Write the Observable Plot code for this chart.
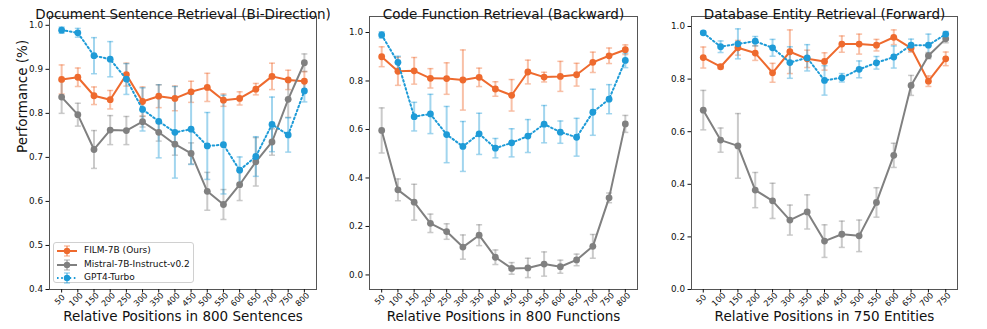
<!DOCTYPE html>
<html>
<head>
<meta charset="utf-8">
<script src="https://cdn.jsdelivr.net/npm/d3@7"></script>
<script src="https://cdn.jsdelivr.net/npm/@observablehq/plot@0.6"></script>
<style>
  html, body { margin: 0; padding: 0; background: #fff; }
  #root { position: relative; width: 987px; height: 329px; font-family: "DejaVu Sans", sans-serif; }
  .panel { position: absolute; top: 0; }
  .legend { position: absolute; left: 53px; top: 242px; width: 139px; height: 39px;
            border: 1px solid #d0d0d0; border-radius: 3px; background: rgba(255,255,255,0.85); }
  .legend .row { position: absolute; left: 0; height: 12px; font-size: 9px; color: #111; white-space: nowrap; }
  .legend .row svg { position: absolute; left: 3px; top: -5px; }
  .legend .row span { position: absolute; left: 30px; top: -6px; line-height: 12px; }
</style>
</head>
<body>
<div id="root"></div>
<script>
// ---------- data ----------
const positions800 = [50, 100, 150, 200, 250, 300, 350, 400, 450, 500, 550, 600, 650, 700, 750, 800];
const positions750 = [50, 100, 150, 200, 250, 300, 350, 400, 450, 500, 550, 600, 650, 700, 750];

const seriesNames = ["FILM-7B (Ours)", "Mistral-7B-Instruct-v0.2", "GPT4-Turbo"];
const titles = ["Document Sentence Retrieval (Bi-Direction)", "Code Function Retrieval (Backward)", "Database Entity Retrieval (Forward)"];
const xLabels = ["Relative Positions in 800 Sentences", "Relative Positions in 800 Functions", "Relative Positions in 750 Entities"];
const yLabel = "Performance (%)";

// Panel 1: Document Sentence Retrieval
const docFilm = [0.877, 0.882, 0.840, 0.831, 0.888, 0.827, 0.839, 0.834, 0.849, 0.859, 0.830, 0.834, 0.855, 0.884, 0.876, 0.873];
const docFilmErr = [0.033, 0.021, 0.020, 0.021, 0.026, 0.033, 0.026, 0.028, 0.024, 0.032, 0.014, 0.015, 0.013, 0.030, 0.022, 0.022];
const docMistral = [0.837, 0.797, 0.718, 0.762, 0.761, 0.781, 0.757, 0.730, 0.709, 0.623, 0.593, 0.638, 0.690, 0.735, 0.832, 0.915];
const docMistralErr = [0.037, 0.026, 0.043, 0.033, 0.032, 0.012, 0.020, 0.025, 0.024, 0.043, 0.034, 0.036, 0.055, 0.030, 0.041, 0.020];
const docGpt = [0.989, 0.983, 0.931, 0.923, 0.878, 0.809, 0.782, 0.757, 0.764, 0.726, 0.729, 0.671, 0.702, 0.775, 0.751, 0.851];
const docGptErr = [0.007, 0.010, 0.041, 0.040, 0.035, 0.049, 0.083, 0.104, 0.080, 0.076, 0.112, 0.030, 0.045, 0.062, 0.039, 0.025];

// Panel 2: Code Function Retrieval
const codeFilm = [0.900, 0.840, 0.842, 0.811, 0.810, 0.804, 0.815, 0.767, 0.741, 0.837, 0.816, 0.819, 0.826, 0.877, 0.904, 0.929];
const codeFilmErr = [0.041, 0.058, 0.055, 0.040, 0.065, 0.124, 0.038, 0.030, 0.065, 0.049, 0.020, 0.062, 0.047, 0.042, 0.032, 0.020];
const codeMistral = [0.596, 0.351, 0.300, 0.213, 0.179, 0.115, 0.164, 0.073, 0.027, 0.029, 0.045, 0.034, 0.062, 0.118, 0.318, 0.623];
const codeMistralErr = [0.093, 0.045, 0.074, 0.038, 0.032, 0.050, 0.043, 0.030, 0.024, 0.040, 0.050, 0.027, 0.024, 0.049, 0.020, 0.035];
const codeGpt = [0.990, 0.877, 0.653, 0.664, 0.579, 0.530, 0.582, 0.523, 0.545, 0.573, 0.622, 0.589, 0.568, 0.671, 0.725, 0.885];
const codeGptErr = [0.013, 0.025, 0.059, 0.081, 0.116, 0.103, 0.085, 0.040, 0.058, 0.068, 0.077, 0.046, 0.078, 0.095, 0.060, 0.030];

// Panel 3: Database Entity Retrieval
const dbFilm = [0.882, 0.847, 0.919, 0.899, 0.824, 0.904, 0.877, 0.867, 0.933, 0.933, 0.929, 0.959, 0.918, 0.792, 0.877];
const dbFilmErr = [0.040, 0.008, 0.028, 0.028, 0.036, 0.083, 0.033, 0.033, 0.031, 0.038, 0.022, 0.028, 0.016, 0.020, 0.026];
const dbMistral = [0.682, 0.568, 0.546, 0.378, 0.337, 0.264, 0.295, 0.184, 0.210, 0.204, 0.331, 0.510, 0.776, 0.889, 0.953];
const dbMistralErr = [0.075, 0.046, 0.123, 0.067, 0.067, 0.057, 0.065, 0.062, 0.050, 0.060, 0.056, 0.046, 0.038, 0.012, 0.015];
const dbGpt = [0.976, 0.923, 0.934, 0.944, 0.919, 0.863, 0.881, 0.795, 0.805, 0.837, 0.862, 0.884, 0.929, 0.929, 0.971];
const dbGptErr = [0.006, 0.022, 0.057, 0.018, 0.032, 0.060, 0.050, 0.056, 0.016, 0.032, 0.024, 0.042, 0.023, 0.042, 0.010];

const ticks1 = [0.4, 0.5, 0.6, 0.7, 0.8, 0.9, 1.0];
const ticks2 = [0.0, 0.2, 0.4, 0.6, 0.8, 1.0];
const ticks3 = [0.0, 0.2, 0.4, 0.6, 0.8, 1.0];

// ---------- styles ----------
const colors = ["#EE6A2E", "#808080", "#1E9BD7"];
const dashes = [null, null, "1.6,2.6"];
const errOpacity = 0.42;
const FONT = "DejaVu Sans";

// horizontal cap symbol for error bars
const capSymbol = {
  draw(ctx, size) {
    const r = Math.sqrt(size / Math.PI);
    ctx.moveTo(-r, 0);
    ctx.lineTo(r, 0);
  }
};

function makePanel(cfg) {
  const {positions, lists, yDomain, yTicks, title, xLabel, width, mL, mR, xPad, showYLabel} = cfg;
  const step = positions[1] - positions[0];
  const xDomain = [positions[0] - xPad * step, positions[positions.length - 1] + xPad * step];
  const seriesRows = lists.map(([vals, errs], si) =>
    positions.map((p, i) => ({pos: p, value: vals[i], err: errs[i], s: si})));

  const marks = [];
  // error bars (all beneath lines, as in matplotlib)
  seriesRows.forEach((rows, si) => {
    marks.push(Plot.ruleX(rows, {x: "pos", y1: d => d.value - d.err, y2: d => d.value + d.err,
      stroke: colors[si], strokeOpacity: errOpacity, strokeWidth: 2}));
    marks.push(Plot.dot(rows, {x: "pos", y: d => d.value - d.err, symbol: capSymbol, r: 3,
      fill: "none", stroke: colors[si], strokeOpacity: errOpacity, strokeWidth: 1.5}));
    marks.push(Plot.dot(rows, {x: "pos", y: d => d.value + d.err, symbol: capSymbol, r: 3,
      fill: "none", stroke: colors[si], strokeOpacity: errOpacity, strokeWidth: 1.5}));
  });
  seriesRows.forEach((rows, si) => {
    marks.push(Plot.line(rows, {x: "pos", y: "value", stroke: colors[si], strokeWidth: 2,
      strokeDasharray: dashes[si] || undefined}));
    marks.push(Plot.dot(rows, {x: "pos", y: "value", fill: colors[si], r: 3.4}));
  });
  marks.push(Plot.frame({stroke: "#555", strokeWidth: 1}));
  marks.push(Plot.axisY({ticks: yTicks, tickFormat: ".1f", tickSize: 3.5, tickPadding: 3, label: null, fontSize: 8.8}));
  marks.push(Plot.axisX({ticks: positions, tickSize: 3.5, tickFormat: () => "", label: null}));
  marks.push(Plot.text(positions, {x: d => d, text: d => String(d), frameAnchor: "bottom", dy: 12,
    rotate: -45, textAnchor: "middle", fontSize: 8.2}));
  marks.push(Plot.text([xLabel], {frameAnchor: "bottom", dy: 31, fontSize: 13.5}));
  marks.push(Plot.text([title], {frameAnchor: "top", dy: -7.5, fontSize: 13.5}));
  if (showYLabel) {
    marks.push(Plot.text([yLabel], {frameAnchor: "left", dx: -27, rotate: -90, fontSize: 13.5}));
  }

  return Plot.plot({
    width, height: 329,
    marginLeft: mL, marginRight: mR, marginTop: 16, marginBottom: 40,
    style: {fontFamily: FONT, fontSize: "8.8px", color: "#111", background: "white", overflow: "visible"},
    x: {type: "linear", domain: xDomain},
    y: {type: "linear", domain: yDomain},
    marks
  });
}

const root = document.getElementById("root");
const panels = [
  {left: 0, positions: positions800, lists: [[docFilm, docFilmErr], [docMistral, docMistralErr], [docGpt, docGptErr]],
   yDomain: [0.4, 1.02], yTicks: ticks1, title: titles[0], xLabel: xLabels[0], width: 330, mL: 49, mR: 14, xPad: 0.75, showYLabel: true},
  {left: 330, positions: positions800, lists: [[codeFilm, codeFilmErr], [codeMistral, codeMistralErr], [codeGpt, codeGptErr]],
   yDomain: [-0.06, 1.066], yTicks: ticks2, title: titles[1], xLabel: xLabels[1], width: 330, mL: 39, mR: 23, xPad: 0.75, showYLabel: false},
  {left: 660, positions: positions750, lists: [[dbFilm, dbFilmErr], [dbMistral, dbMistralErr], [dbGpt, dbGptErr]],
   yDomain: [0.0, 1.038], yTicks: ticks3, title: titles[2], xLabel: xLabels[2], width: 327, mL: 31, mR: 30, xPad: 0.68, showYLabel: false}
];
panels.forEach(cfg => {
  const div = document.createElement("div");
  div.className = "panel";
  div.style.left = cfg.left + "px";
  div.appendChild(makePanel(cfg));
  root.appendChild(div);
});

// legend (in first panel, lower left)
const legend = document.createElement("div");
legend.className = "legend";
const rowTops = [7, 20.5, 34];
seriesNames.forEach((name, si) => {
  const row = document.createElement("div");
  row.className = "row";
  row.style.top = rowTops[si] + "px";
  const c = colors[si];
  const dash = dashes[si] ? `stroke-dasharray="${dashes[si]}"` : "";
  row.innerHTML = `<svg width="24" height="12" viewBox="0 0 24 12">
      <line x1="10" x2="10" y1="1" y2="11" stroke="${c}" stroke-opacity="${errOpacity}" stroke-width="2"/>
      <line x1="7" x2="13" y1="1" y2="1" stroke="${c}" stroke-opacity="${errOpacity}" stroke-width="1.5"/>
      <line x1="7" x2="13" y1="11" y2="11" stroke="${c}" stroke-opacity="${errOpacity}" stroke-width="1.5"/>
      <line x1="0" x2="20" y1="6" y2="6" stroke="${c}" stroke-width="2" ${dash}/>
      <circle cx="10" cy="6" r="3.2" fill="${c}"/>
    </svg><span>${name}</span>`;
  legend.appendChild(row);
});
root.appendChild(legend);
</script>
</body>
</html>
